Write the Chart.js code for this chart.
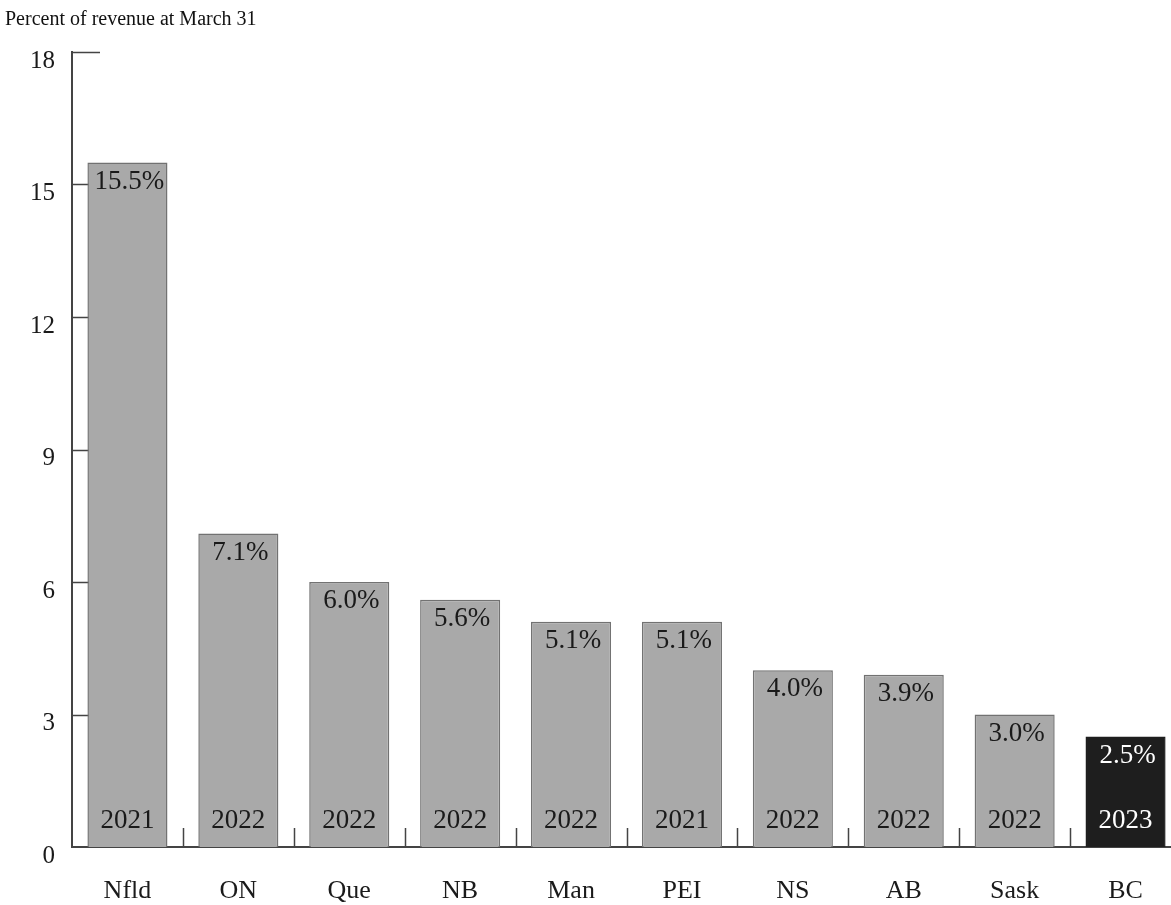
<!DOCTYPE html>
<html lang="en">
<head>
    <meta charset="UTF-8">
    <title>Percent of revenue at March 31</title>
    <script src="https://cdn.jsdelivr.net/npm/chart.js@4.4.2/dist/chart.umd.min.js"></script>
    <style>
        html, body {
            margin: 0;
            padding: 0;
            background: #ffffff;
            overflow: hidden;
        }
        .chart-wrap {
            position: relative;
            width: 1181px;
            height: 905px;
        }
    </style>
</head>
<body>
    <div class="chart-wrap">
        <canvas id="revenueChart"></canvas>
    </div>

    <script>
        // --- Data ---
        const provinces = ['Nfld', 'ON', 'Que', 'NB', 'Man', 'PEI', 'NS', 'AB', 'Sask', 'BC'];
        const percentOfRevenue = [15.5, 7.1, 6.0, 5.6, 5.1, 5.1, 4.0, 3.9, 3.0, 2.5];
        const fiscalYears = ['2021', '2022', '2022', '2022', '2022', '2021', '2022', '2022', '2022', '2023'];
        const highlighted = 'BC';

        const serif = "'Liberation Serif', 'DejaVu Serif', serif";
        const axisColor = '#444444';

        const barFill = provinces.map(p => p === highlighted ? '#1e1e1e' : '#a9a9a9');
        const barEdge = provinces.map(p => p === highlighted ? '#1e1e1e' : '#727272');

        // Inward tick marks on both axes, drawn under the bars
        const axisTicks = {
            id: 'axisTicks',
            beforeDatasetsDraw(chart) {
                const { ctx, chartArea, scales: { x, y } } = chart;
                ctx.save();
                ctx.strokeStyle = axisColor;
                ctx.lineWidth = 1.5;
                ctx.beginPath();
                y.ticks.forEach(t => {
                    if (t.value === 0) return;
                    const py = Math.round(y.getPixelForValue(t.value)) + 0.5;
                    ctx.moveTo(chartArea.left, py);
                    ctx.lineTo(chartArea.left + 28, py);
                });
                for (let i = 1; i < provinces.length; i++) {
                    const px = Math.round((x.getPixelForValue(i - 1) + x.getPixelForValue(i)) / 2) + 0.5;
                    ctx.moveTo(px, chartArea.bottom);
                    ctx.lineTo(px, chartArea.bottom - 19);
                }
                ctx.stroke();
                ctx.restore();
            }
        };

        // Value at the top of each bar, fiscal year at its foot
        const barText = {
            id: 'barText',
            afterDatasetsDraw(chart) {
                const { ctx } = chart;
                const meta = chart.getDatasetMeta(0);
                ctx.save();
                ctx.font = `27px ${serif}`;
                ctx.textAlign = 'center';
                ctx.textBaseline = 'middle';
                meta.data.forEach((bar, i) => {
                    ctx.fillStyle = provinces[i] === highlighted ? '#ffffff' : '#1a1a1a';
                    ctx.fillText(percentOfRevenue[i].toFixed(1) + '%', bar.x + 2, bar.y + 19);
                    ctx.fillText(fiscalYears[i], bar.x, bar.base - 26);
                });
                ctx.restore();
            }
        };

        const ctx = document.getElementById('revenueChart').getContext('2d');
        new Chart(ctx, {
            type: 'bar',
            data: {
                labels: provinces,
                datasets: [{
                    data: percentOfRevenue,
                    backgroundColor: barFill,
                    borderColor: barEdge,
                    borderWidth: 1.5,
                    barPercentage: 0.722,
                    categoryPercentage: 1.0
                }]
            },
            options: {
                responsive: true,
                maintainAspectRatio: false,
                animation: false,
                layout: { padding: { left: 5, right: 0, top: 0, bottom: 0 } },
                plugins: {
                    legend: { display: false },
                    tooltip: { enabled: false },
                    title: {
                        display: true,
                        text: 'Percent of revenue at March 31',
                        align: 'start',
                        color: '#111111',
                        font: { family: serif, size: 20, weight: 'normal' },
                        padding: { top: 8, bottom: 20 }
                    }
                },
                scales: {
                    x: {
                        grid: { display: false, drawTicks: false },
                        border: { display: true, color: axisColor, width: 2 },
                        ticks: {
                            color: '#1a1a1a',
                            padding: 29,
                            font: { family: serif, size: 26 }
                        },
                        afterFit(scale) { scale.height = 58; }
                    },
                    y: {
                        min: 0,
                        max: 18,
                        grid: { display: false, drawTicks: false },
                        border: { display: true, color: axisColor, width: 2 },
                        ticks: {
                            stepSize: 3,
                            color: '#1a1a1a',
                            padding: 17,
                            labelOffset: 9,
                            font: { family: serif, size: 25 }
                        },
                        afterFit(scale) { scale.width = 67; }
                    }
                }
            },
            plugins: [axisTicks, barText]
        });
    </script>
</body>
</html>
